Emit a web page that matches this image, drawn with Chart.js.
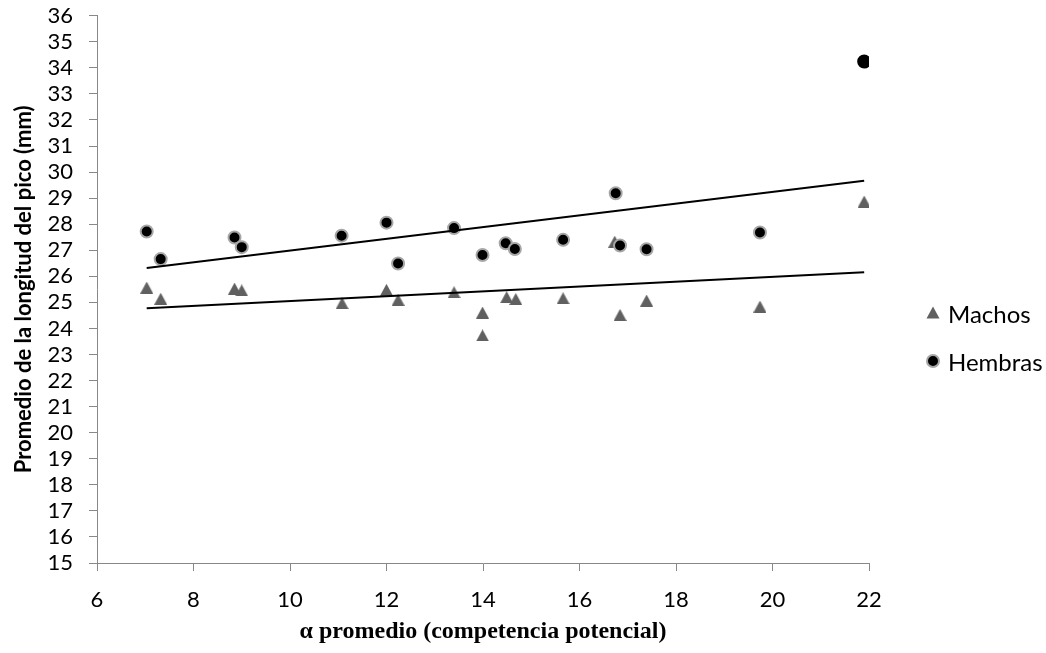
<!DOCTYPE html>
<html lang="es">
<head>
<meta charset="utf-8">
<title>Longitud del pico vs α promedio</title>
<script src="https://cdn.jsdelivr.net/npm/chart.js@4.4.1/dist/chart.umd.min.js"></script>
<style>
    body { margin: 0; background: #fff; }
    #contenedor { position: relative; width: 1046px; height: 653px; }
    .item {
        position: absolute;
        left: 925px;
        height: 30px;
        line-height: 30px;
        display: flex;
        align-items: center;
        font: 24px Lato, sans-serif;
        color: #000;
    }
    .item svg { width: 16px; height: 16px; margin-right: 7px; }
</style>
</head>
<body>
<div id="contenedor">
    <canvas id="grafico"></canvas>
    <div class="item" style="top:298px">
        <svg viewBox="0 0 16 16"><polygon points="8,1.5 14.5,13.5 1.5,13.5" fill="#606060"/></svg>
        <span>Machos</span>
    </div>
    <div class="item" style="top:346px">
        <svg viewBox="0 0 16 16"><circle cx="8" cy="8" r="6" fill="#000" stroke="#a6a6a6" stroke-width="2"/></svg>
        <span>Hembras</span>
    </div>
</div>
<script>
// Datos
const machosX = [7.03, 7.32, 8.85, 9.00, 11.08, 12.00, 12.24, 13.40, 13.99, 13.99, 14.49, 14.68, 15.66, 16.73, 16.84, 17.39, 19.74, 21.90];
const machosY = [25.57, 25.14, 25.53, 25.46, 24.97, 25.48, 25.10, 25.39, 24.61, 23.73, 25.20, 25.13, 25.16, 27.33, 24.52, 25.07, 24.84, 28.87];
const hembrasX = [7.03, 7.32, 8.85, 9.00, 11.07, 12.00, 12.24, 13.40, 13.99, 14.47, 14.66, 15.66, 16.75, 16.84, 17.39, 19.74, 21.90];
const hembrasY = [27.72, 26.66, 27.49, 27.12, 27.56, 28.06, 26.49, 27.85, 26.82, 27.27, 27.05, 27.40, 29.19, 27.18, 27.04, 27.68, 34.24];
const ejeX = { min: 6, max: 22, paso: 2 };
const ejeY = { min: 15, max: 36, paso: 1 };

function pares(xs, ys) {
    return xs.map((x, i) => ({ x: x, y: ys[i] }));
}

// Línea de tendencia lineal (mínimos cuadrados), como en Excel
function regresion(xs, ys) {
    const n = xs.length;
    const mx = xs.reduce((a, b) => a + b, 0) / n;
    const my = ys.reduce((a, b) => a + b, 0) / n;
    let sxy = 0, sxx = 0;
    for (let i = 0; i < n; i++) {
        sxy += (xs[i] - mx) * (ys[i] - my);
        sxx += (xs[i] - mx) * (xs[i] - mx);
    }
    const b = sxy / sxx;
    const a = my - b * mx;
    const x0 = Math.min(...xs), x1 = Math.max(...xs);
    return [{ x: x0, y: a + b * x0 }, { x: x1, y: a + b * x1 }];
}

// Marcador triangular centrado como en Excel
const triangulo = document.createElement('canvas');
triangulo.width = 13;
triangulo.height = 12;
const t = triangulo.getContext('2d');
t.fillStyle = '#606060';
t.beginPath();
t.moveTo(6.5, 0);
t.lineTo(13, 12);
t.lineTo(0, 12);
t.closePath();
t.fill();

const gris = '#888888';
const fuenteTicks = { family: 'Lato', size: 22 };

const ctx = document.getElementById('grafico').getContext('2d');
new Chart(ctx, {
    type: 'scatter',
    data: {
        datasets: [
            {
                label: 'Tendencia Hembras',
                data: regresion(hembrasX, hembrasY),
                showLine: true,
                borderColor: '#000',
                borderWidth: 2,
                pointRadius: 0
            },
            {
                label: 'Tendencia Machos',
                data: regresion(machosX, machosY),
                showLine: true,
                borderColor: '#000',
                borderWidth: 2,
                pointRadius: 0
            },
            {
                label: 'Hembras',
                data: pares(hembrasX, hembrasY),
                pointStyle: 'circle',
                pointRadius: 6,
                pointBorderWidth: 2,
                pointBackgroundColor: '#000',
                pointBorderColor: c => c.dataIndex === hembrasX.length - 1 ? '#000' : '#a6a6a6'
            },
            {
                label: 'Machos',
                data: pares(machosX, machosY),
                pointStyle: triangulo,
                pointRadius: 7
            }
        ]
    },
    options: {
        responsive: true,
        maintainAspectRatio: false,
        animation: false,
        layout: { padding: { top: 0, right: 177, bottom: 0, left: 0 } },
        plugins: {
            legend: { display: false },
            tooltip: { enabled: false }
        },
        scales: {
            x: {
                type: 'linear',
                min: ejeX.min,
                max: ejeX.max,
                ticks: { stepSize: ejeX.paso, autoSkip: false, font: fuenteTicks, color: '#000', padding: 16 },
                grid: { drawOnChartArea: false, tickLength: 8, color: gris },
                border: { color: gris, width: 1 },
                title: {
                    display: true,
                    text: 'α promedio (competencia potencial)',
                    font: { family: 'Liberation Serif', size: 24, weight: 'bold' },
                    color: '#000',
                    padding: { top: 0, bottom: 7 }
                },
                afterFit: s => { s.height = 90; }
            },
            y: {
                type: 'linear',
                min: ejeY.min,
                max: ejeY.max,
                ticks: { stepSize: ejeY.paso, autoSkip: false, font: fuenteTicks, color: '#000', padding: 16 },
                grid: { drawOnChartArea: false, tickLength: 8, color: gris },
                border: { color: gris, width: 1 },
                title: {
                    display: true,
                    text: 'Promedio de la longitud del pico (mm)',
                    font: { family: 'Lato', size: 22, weight: 'bold' },
                    color: '#000',
                    padding: { top: 11, bottom: 0 }
                },
                afterFit: s => {
                    s.width = 97;
                    s.paddingTop = 15.7;
                    s.paddingBottom = 0;
                }
            }
        }
    }
});
</script>
</body>
</html>
